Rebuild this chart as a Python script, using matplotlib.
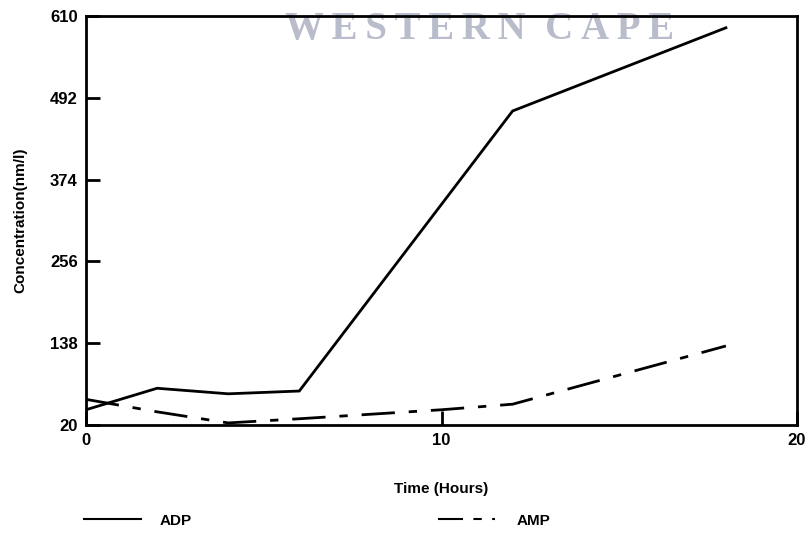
import matplotlib
matplotlib.use("Agg")
import matplotlib.pyplot as plt
from matplotlib.lines import Line2D

time_adp = [0, 2, 4, 6, 12, 18]
adp = [42, 73, 65, 69, 473, 593]
time_amp = [0, 2, 4, 6, 10, 12, 18]
amp = [57, 39, 23, 29, 42, 50, 134]
yticks = [20, 138, 256, 374, 492, 610]
xticks = [0, 10, 20]

plt.rcParams['font.family'] = ['Liberation Sans', 'DejaVu Sans']

fig = plt.figure(figsize=(8.07, 5.35), dpi=100)
ax = fig.add_axes([86/807, 1 - 425/535, (797-86)/807, (425-16)/535])
ax.patch.set_alpha(0)

ax.plot(time_adp, adp, color='black', lw=2, solid_joinstyle='miter')
ax.plot(time_amp, amp, color='black', lw=2, dashes=(12, 5, 3, 5))

ax.set_xlim(0, 20)
ax.set_ylim(20, 610)
ax.set_xticks(xticks)
ax.set_yticks(yticks)
ax.tick_params(direction='in', length=10, width=2, labelsize=12, pad=6)
for lab in ax.get_xticklabels() + ax.get_yticklabels():
    lab.set_fontweight('bold')
for s in ax.spines.values():
    s.set_linewidth(2)

ax.set_xlabel('Time (Hours)', fontsize=11, fontweight='bold', labelpad=24)
ax.set_ylabel('Concentration(nm/l)', fontsize=11, fontweight='bold', labelpad=16)

# legend drawn below
fig.add_artist(Line2D([84/807, 141/807], [1-519/535, 1-519/535], color='black', lw=1.5))
fig.text(160/807, 1-521/535, 'ADP', fontsize=11, fontweight='bold', va='center')
fig.add_artist(Line2D([438/807, 495/807], [1-519/535, 1-519/535], color='black', lw=1.5, dashes=(12, 5, 4, 5)))
fig.text(517/807, 1-521/535, 'AMP', fontsize=11, fontweight='bold', va='center')

# watermark
fig.text(480/807, 1-29/535, 'W\u2009E\u2009S\u2009T\u2009E\u2009R\u2009N  C\u2009A\u2009P\u2009E', fontsize=28,
         fontweight='bold', family=['Liberation Serif', 'DejaVu Serif'], color='#b9bccb',
         ha='center', va='center', zorder=-1)

fig.savefig('out.png', dpi=100)
